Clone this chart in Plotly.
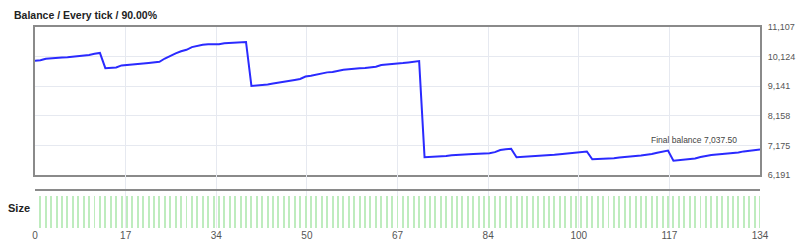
import plotly.graph_objects as go

# ---- data ----
balance = [
    9990, 10000, 10050, 10070, 10080, 10095, 10100, 10115, 10125, 10140,
    10180, 10215, 10245, 9740, 9745, 9760, 9830, 9840, 9860, 9880,
    9895, 9915, 9930, 9950, 10060, 10150, 10230, 10300, 10350, 10440,
    10490, 10520, 10535, 10540, 10535, 10570, 10580, 10585, 10590, 10610,
    9150, 9160, 9175, 9200, 9230, 9265, 9290, 9330, 9350, 9380,
    9460, 9490, 9530, 9565, 9600, 9615, 9660, 9685, 9700, 9725,
    9735, 9745, 9755, 9790, 9845, 9855, 9875, 9890, 9910, 9930,
    9945, 9975, 6780, 6785, 6800, 6815, 6820, 6850, 6865, 6870,
    6880, 6890, 6895, 6905, 6912, 6950, 7020, 7050, 7065, 6780,
    6790, 6795, 6805, 6815, 6822, 6840, 6860, 6878, 6895, 6910,
    6925, 6950, 6970, 6712, 6718, 6725, 6733, 6750, 6770, 6780,
    6800, 6820, 6840, 6860, 6890, 6930, 6975, 7000, 6666, 6680,
    6690, 6712, 6740, 6790, 6830, 6855, 6870, 6885, 6900, 6910,
    6935, 6975, 7000, 7030, 7037.5,
]
ticks_idx = list(range(len(balance)))
size_idx = list(range(1, len(balance)))
size_vals = [1] * len(size_idx)

x_tickvals = [0, 16.75, 33.5, 50.25, 67, 83.75, 100.5, 117.25, 134]
x_ticktext = ["0", "17", "34", "50", "67", "84", "100", "117", "134"]
y_tickvals = [6191, 7174.2, 8157.4, 9140.6, 10123.8, 11107]
y_ticktext = ["6,191", "7,175", "8,158", "9,141", "10,124", "11,107"]
final_label = "Final balance 7,037.50"
title_text = "Balance / Every tick / 90.00%"

FONT = "Liberation Sans, Arial, sans-serif"
GRID = "#e6e9f0"
FRAME = "#8a8a8a"

fig = go.Figure()
fig.add_trace(go.Scatter(
    x=ticks_idx, y=balance, mode="lines",
    line=dict(color="#2a2aff", width=2),
    xaxis="x", yaxis="y", hoverinfo="skip", showlegend=False,
))
fig.add_trace(go.Bar(
    x=size_idx, y=size_vals, width=0.18,
    marker=dict(color="rgb(190,236,190)", line=dict(width=0)),
    xaxis="x2", yaxis="y2", hoverinfo="skip", showlegend=False,
))

fig.update_layout(
    width=800, height=250,
    margin=dict(l=35, r=40, t=27, b=22, autoexpand=False),
    paper_bgcolor="white", plot_bgcolor="white",
    font=dict(family=FONT, size=10, color="#555"),
    bargap=0,
    xaxis=dict(
        domain=[0, 1], anchor="y", range=[0, 134], automargin=False,
        tickvals=x_tickvals, showticklabels=False, ticks="",
        showgrid=True, gridcolor=GRID, gridwidth=1, zeroline=False,
        showline=True, mirror=True, linecolor=FRAME, linewidth=2,
    ),
    yaxis=dict(
        domain=[0.2637, 1], anchor="x", side="right", automargin=False,
        range=[6191, 11107], tickvals=y_tickvals, ticktext=y_ticktext,
        ticks="", ticklabelstandoff=4,
        showgrid=True, gridcolor=GRID, gridwidth=1, zeroline=False,
        showline=True, mirror=True, linecolor=FRAME, linewidth=2,
        tickfont=dict(size=9, color="#555"),
    ),
    xaxis2=dict(
        domain=[0, 1], anchor="y2", range=[0, 134], matches="x", automargin=False,
        tickvals=x_tickvals, ticktext=x_ticktext, ticks="",
        showgrid=True, gridcolor=GRID, gridwidth=1, zeroline=False,
        showline=False, tickfont=dict(size=10, color="#555"),
    ),
    yaxis2=dict(
        domain=[0, 0.2637], anchor="x2", range=[0, 1.656], automargin=False,
        showticklabels=False, showgrid=False, zeroline=False, showline=False,
    ),
    shapes=[dict(
        type="line", xref="x2 domain", yref="y2 domain",
        x0=0, x1=1, y0=0.717, y1=0.717,
        line=dict(color=FRAME, width=2),
    )],
    annotations=[
        dict(text="<b>" + title_text + "</b>", xref="paper", yref="paper",
             x=-23 / 725, y=1 + 12 / 201, xanchor="left", yanchor="middle",
             showarrow=False, font=dict(family=FONT, size=10.5, color="#222")),
        dict(text="<b>Size</b>", xref="paper", yref="paper",
             x=-3 / 725, y=20 / 201, xanchor="right", yanchor="middle",
             showarrow=False, font=dict(family=FONT, size=11, color="#222")),
        dict(text=final_label, x=ticks_idx[-1], y=balance[-1], xref="x", yref="y",
             xanchor="right", yanchor="middle", xshift=-21, yshift=10,
             showarrow=False, font=dict(family=FONT, size=8.5, color="#444")),
    ],
)

fig.write_html("out.html", config={"displayModeBar": False})
